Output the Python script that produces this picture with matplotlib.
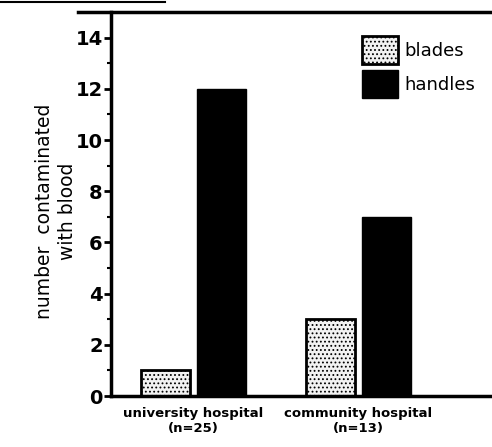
import matplotlib
matplotlib.use("Agg")
import matplotlib.pyplot as plt
import numpy as np
from matplotlib.patches import Patch

groups = ["university hospital\n(n=25)", "community hospital\n(n=13)"]
blades = [1, 3]
handles = [12, 7]
yticks = [0, 2, 4, 6, 8, 10, 12, 14]

plt.rcParams['hatch.linewidth'] = 0.8
fig = plt.figure(figsize=(4.92, 4.47), dpi=100)
ax = fig.add_axes([0.2256, 0.114, 0.7744, 0.859])

x = np.arange(len(groups))
w = 0.30
off = 0.17
ax.bar(x - off, blades, w, facecolor="#f2f2f2", edgecolor="black", linewidth=2, hatch="....")
ax.bar(x + off, handles, w, facecolor="black", edgecolor="black", linewidth=1)

ax.set_xlim(-0.5, 1.81)
ax.set_ylim(0, 15)
ax.set_yticks(yticks)
ax.set_yticklabels([str(v) for v in yticks], fontsize=14, fontweight="bold")
ax.set_yticks(np.arange(1, 15, 2), minor=True)
ax.tick_params(axis="y", which="major", length=5, width=2, direction="out", pad=1)
ax.tick_params(axis="y", which="minor", length=3, width=1.5, direction="out")
ax.set_xticks(x)
ax.set_xticklabels(groups, fontsize=9.5, fontweight="bold")
ax.tick_params(axis="x", length=0, pad=8)

for s in ["top", "right"]:
    ax.spines[s].set_visible(False)
ax.spines["left"].set_linewidth(2.5)
ax.spines["bottom"].set_linewidth(2.5)

ax.set_ylabel("number  contaminated\nwith blood", fontsize=13.5, linespacing=1.25)
ax.yaxis.set_label_coords(-0.09, 0.48)

# scan frame line across the top
fig.add_artist(plt.Line2D([78 / 492, 1.0], [1 - 12 / 447, 1 - 12 / 447], color="black", lw=2.5))
fig.add_artist(plt.Line2D([0, 165 / 492], [1 - 2 / 447, 1 - 2 / 447], color="black", lw=1.5))

leg_handles = [Patch(facecolor="#f2f2f2", edgecolor="black", linewidth=2, hatch="...."),
               Patch(facecolor="black", edgecolor="black")]
ax.legend(leg_handles, ["blades", "handles"], loc="upper right", bbox_to_anchor=(1.0, 0.98),
          frameon=False, fontsize=13, handlelength=2.0, handleheight=2.0,
          handletextpad=0.4, labelspacing=0.35)

fig.savefig("out.png", dpi=100)
